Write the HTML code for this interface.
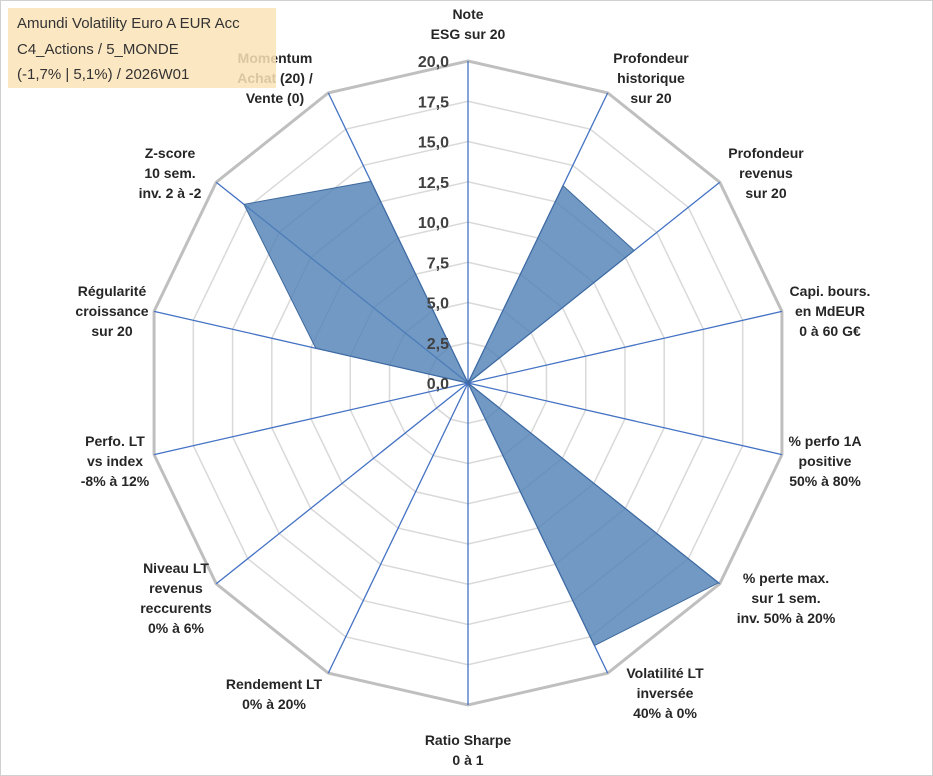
<!DOCTYPE html>
<html><head><meta charset="utf-8">
<style>
body{margin:0;background:#fff;}
svg{display:block;font-family:"Liberation Sans",Arial,sans-serif;}
</style></head>
<body>
<svg id="chart" width="933" height="776" viewBox="0 0 933 776" xmlns="http://www.w3.org/2000/svg">
<rect x="0.5" y="0.5" width="932" height="775" fill="#fff" stroke="#d0d0d0"/>
<g id="grid"></g>
<g id="series"></g>
<g id="ticks"></g>
<g id="labels"></g>
<g>
<rect x="8" y="8" width="268" height="80" fill="#fbe3b8" opacity="0.85"/>
<text x="17" y="28" font-size="15" fill="#333">Amundi Volatility Euro A EUR Acc</text>
<text x="17" y="54" font-size="15" fill="#333">C4_Actions / 5_MONDE</text>
<text x="17" y="79" font-size="15" fill="#333">(-1,7% | 5,1%) / 2026W01</text>
</g>
</svg>
<script>
const categories=[["Note","ESG sur 20"],["Profondeur","historique","sur 20"],["Profondeur","revenus","sur 20"],["Capi. bours.","en MdEUR","0 à 60 G€"],["% perfo 1A","positive","50% à 80%"],["% perte max.","sur 1 sem.","inv. 50% à 20%"],["Volatilité LT","inversée","40% à 0%"],["Ratio Sharpe","0 à 1"],["Rendement LT","0% à 20%"],["Niveau LT","revenus","reccurents","0% à 6%"],["Perfo. LT","vs index","-8% à 12%"],["Régularité","croissance","sur 20"],["Z-score","10 sem.","inv. 2 à -2"],["Momentum","Achat (20) /","Vente (0)"]];
const values=[0,13.6,13.2,0,0,19.9,18.1,0,0,0,0,9.7,17.8,13.9];
const tickLabels=["0,0","2,5","5,0","7,5","10,0","12,5","15,0","17,5","20,0"];
const labelPos=[[468,14],[651,58],[766,153],[830,291],[825,441],[786,578],[665,673],[468,740],[274,684],[176,568],[115,441],[112,291],[170,153],[275,58]];
const CX=468,CY=383,R=322,MAX=20,N=categories.length;
const ns="http://www.w3.org/2000/svg";
function rScale(v){return v/MAX*R;}
function pt(i,v){const a=i*2*Math.PI/N;return [CX+rScale(v)*Math.sin(a),CY-rScale(v)*Math.cos(a)];}
function mk(tag,attrs,parent){const e=document.createElementNS(ns,tag);for(const k in attrs)e.setAttribute(k,attrs[k]);parent.appendChild(e);return e;}
const grid=document.getElementById('grid');
for(let t=1;t<tickLabels.length;t++){
  const v=t*2.5;const pts=[];for(let i=0;i<N;i++)pts.push(pt(i,v).join(','));
  const p=mk('polygon',{points:pts.join(' '),fill:'none',stroke:t===tickLabels.length-1?'#bfbfbf':'#d9d9d9','stroke-width':t===tickLabels.length-1?3:1.5},grid);
  
  
}
for(let i=0;i<N;i++){
  const e=pt(i,MAX);
  const l=mk('line',{x1:CX,y1:CY,x2:e[0],y2:e[1],stroke:'#4472c4','stroke-width':1.3},grid);
  
  
}
const s=document.getElementById('series');
const sp=values.map((v,i)=>pt(i,v).join(',')).join(' ');
const poly=mk('polygon',{points:sp,fill:'#4f7fb5','fill-opacity':0.8,stroke:'#3e6a9e','stroke-width':1},s);


const tk=document.getElementById('ticks');
tickLabels.forEach((t,k)=>{
  const y=CY-rScale(k*2.5);
  const e=mk('text',{x:449,y:y+6,'text-anchor':'end','font-size':16,'font-weight':'bold',fill:'#404040'},tk);
  e.textContent=t;
  
  
});
const lb=document.getElementById('labels');
categories.forEach((lines,i)=>{
  const g=mk('text',{'text-anchor':'middle','font-size':14,'font-weight':'bold',fill:'#262626'},lb);
  
  
  lines.forEach((ln,j)=>{const ts=mk('tspan',{x:labelPos[i][0],y:labelPos[i][1]+5+j*20},g);ts.textContent=ln;});
});
</script>
</body></html>
